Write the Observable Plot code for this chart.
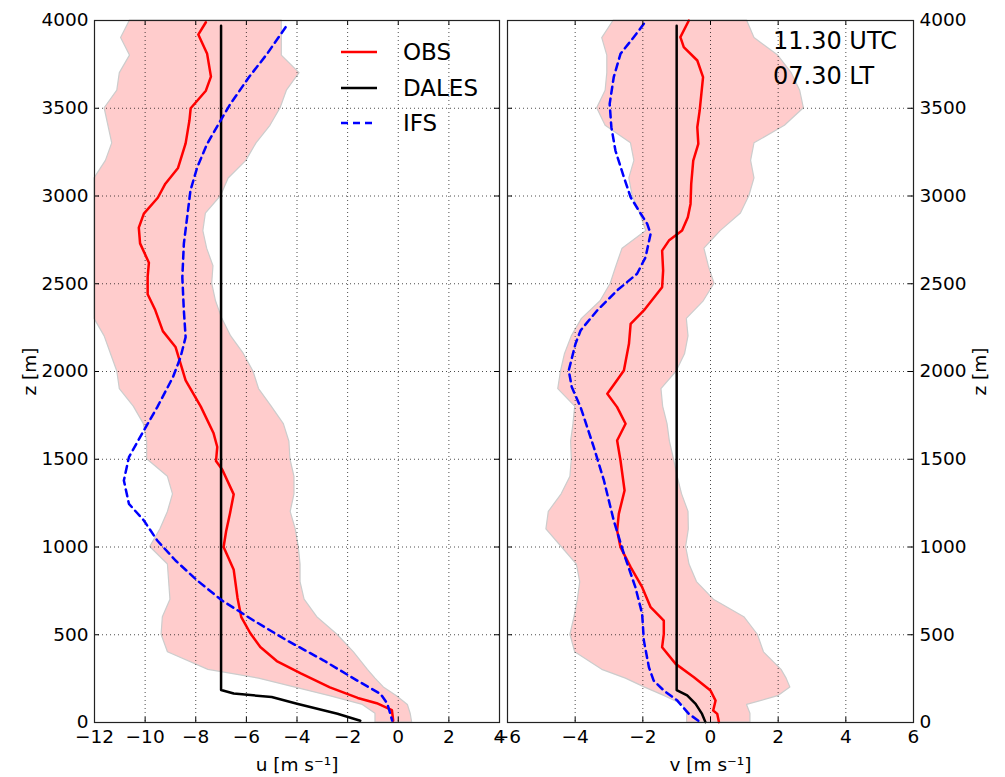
<!DOCTYPE html>
<html><head><meta charset="utf-8">
<script src="https://cdn.jsdelivr.net/npm/d3@7"></script>
<script src="https://cdn.jsdelivr.net/npm/@observablehq/plot@0.6"></script>
<style>
body{margin:0;background:#fff;}
#wrap{position:relative;width:1005px;height:777px;font-family:"DejaVu Sans",sans-serif;overflow:hidden;}
#wrap svg{position:absolute;left:0;top:0;}
.ov{position:absolute;font-family:"DejaVu Sans",sans-serif;color:#000;white-space:nowrap;}
</style></head><body><div id="wrap"></div>
<script>
// ---------- data ----------
const zTicks = [0, 500, 1000, 1500, 2000, 2500, 3000, 3500, 4000];
const uTicks = [-12, -10, -8, -6, -4, -2, 0, 2, 4];
const vTicks = [-6, -4, -2, 0, 2, 4, 6];

const bandZ = [4000,3900,3800,3700,3600,3500,3400,3300,3200,3100,3000,2900,2800,2700,2600,2500,2400,2300,2200,2100,2000,1900,1800,1700,1600,1500,1400,1300,1200,1100,1000,900,800,700,600,500,400,300,250,200,150,100,50,0];
const uBandLo = [-10.6,-10.95,-10.6,-11.0,-11.1,-11.6,-11.45,-11.3,-11.55,-12,-12,-12,-12,-12,-12,-12,-12,-12,-11.6,-11.35,-11.1,-11.0,-10.45,-10.05,-9.92,-9.92,-9.1,-8.9,-9.1,-9.4,-9.8,-9.1,-9.05,-9.0,-9.3,-9.35,-9.1,-7.5,-5.5,-4.1,-2.7,-1.4,-0.9,-0.9];
const uBandHi = [-4.6,-4.6,-4.6,-3.9,-4.4,-4.65,-5.05,-5.6,-6.0,-6.7,-7.0,-7.6,-7.7,-7.55,-7.3,-7.35,-7.2,-6.95,-6.6,-6.1,-5.72,-5.5,-5.0,-4.52,-4.3,-4.26,-4.1,-4.1,-4.25,-4.05,-3.93,-3.86,-3.86,-3.7,-3.2,-2.4,-1.75,-1.2,-0.9,-0.57,-0.05,0.38,0.49,0.55];
const vBandLo = [-2.86,-3.2,-3.05,-3.05,-3.1,-3.35,-3.1,-2.35,-2.25,-2.4,-2.3,-2.08,-1.9,-2.6,-2.78,-2.95,-3.25,-3.8,-4.1,-4.3,-4.42,-4.5,-4.0,-4.05,-4.12,-4.1,-4.14,-4.4,-4.78,-4.85,-4.4,-3.95,-3.85,-3.92,-4.02,-4.14,-4.0,-3.2,-2.5,-1.95,-1.35,-0.8,-0.69,-0.69];
const vBandHi = [1.08,1.3,2.0,2.4,2.65,2.76,2.2,1.3,1.2,1.3,1.15,0.9,0.3,-0.18,-0.05,0.12,-0.2,-0.7,-0.65,-0.75,-1.0,-1.45,-1.4,-1.27,-1.2,-1.08,-0.97,-0.84,-0.65,-0.64,-0.72,-0.62,-0.4,0.1,1.0,1.4,1.58,2.1,2.25,2.36,2.0,1.08,1.18,1.18];

const obsUZ = [3990,3920,3810,3680,3600,3500,3430,3300,3160,3070,2990,2900,2820,2730,2620,2540,2440,2350,2230,2140,1950,1800,1650,1570,1490,1440,1300,1190,1090,1000,870,710,600,510,430,350,280,200,140,110,70,10];
const obsU  = [-7.6,-7.9,-7.55,-7.4,-7.6,-8.2,-8.25,-8.4,-8.7,-9.2,-9.5,-10.05,-10.25,-10.2,-9.85,-9.9,-9.9,-9.6,-9.3,-8.8,-8.4,-7.8,-7.3,-7.15,-7.2,-6.95,-6.5,-6.65,-6.8,-6.9,-6.5,-6.35,-6.2,-5.85,-5.45,-4.8,-3.85,-2.7,-1.6,-0.85,-0.25,-0.2];
const dalesUZ = [3970,185,165,145,107,50,10];
const dalesU  = [-7,-7,-6.5,-5.0,-4.0,-2.4,-1.5];
const ifsUZ = [3962,3810,3677,3525,3430,3297,3164,3031,2879,2728,2537,2348,2196,2082,1968,1797,1664,1512,1379,1246,1151,1037,923,809,695,581,467,353,239,163,107,11];
const ifsU  = [-4.45,-5.18,-5.9,-6.63,-7.02,-7.55,-7.94,-8.21,-8.34,-8.47,-8.53,-8.47,-8.4,-8.6,-8.9,-9.52,-10.05,-10.64,-10.84,-10.64,-10.05,-9.52,-8.8,-7.94,-6.96,-5.71,-4.39,-2.94,-1.62,-0.7,-0.43,-0.24];

const obsVZ = [4000,3905,3848,3772,3677,3487,3392,3297,3202,3069,2955,2879,2803,2746,2689,2575,2480,2348,2272,2158,2006,1940,1873,1797,1702,1607,1493,1322,1189,1094,999,885,771,657,581,505,429,334,258,182,125,68,49,2];
const obsV  = [-0.64,-0.89,-0.79,-0.39,-0.22,-0.32,-0.39,-0.36,-0.51,-0.57,-0.59,-0.67,-0.84,-1.23,-1.43,-1.4,-1.43,-1.97,-2.36,-2.41,-2.56,-2.8,-3.05,-2.76,-2.51,-2.76,-2.66,-2.54,-2.71,-2.76,-2.66,-2.36,-2.02,-1.77,-1.38,-1.38,-1.43,-1.03,-0.49,0.0,0.15,0.08,0.2,0.25];
const dalesVZ = [3970,185,154,106,49,2];
const dalesV  = [-1.0,-1.0,-0.69,-0.44,-0.25,-0.15];
const ifsVZ = [3981,3905,3810,3677,3525,3392,3259,3107,2993,2917,2841,2785,2651,2557,2462,2348,2234,2158,2006,1911,1797,1569,1379,1151,961,771,619,467,315,239,182,125,49,2];
const ifsV  = [-1.97,-2.27,-2.66,-2.86,-2.98,-2.93,-2.81,-2.56,-2.36,-2.12,-1.87,-1.77,-1.92,-2.17,-2.76,-3.35,-3.84,-3.99,-4.19,-4.1,-3.84,-3.45,-3.15,-2.86,-2.56,-2.22,-2.02,-1.97,-1.82,-1.68,-1.38,-0.98,-0.64,-0.3];

const seriesNames = ["OBS", "DALES", "IFS"];
const seriesColors = ["#ff0000", "#000000", "#0000ff"];
const timeLabels = ["11.30 UTC", "07.30 LT"];

// ---------- helpers ----------
const rows = (zs, xs) => zs.map((z, i) => ({z, x: xs[i]}));
const bandRows = (lo, hi) => bandZ.map((z, i) => ({z, lo: lo[i], hi: hi[i]}));
const fmt = d => d < 0 ? "\u2212" + (-d) : String(d);

const W = 1005, H = 777, MT = 20, MB = 55, PH = H - MT - MB;

function panel({xDomain, xTicks, ml, mr, yAnchor, xLabel, band, obs, dales, ifs, yLabelOffset}) {
  const PW = W - ml - mr;
  const inner = xTicks.slice(1, -1);
  const innerZ = zTicks.slice(1, -1);
  return Plot.plot({
    width: W, height: H, marginTop: MT, marginBottom: MB, marginLeft: ml, marginRight: mr,
    style: {background: "transparent", overflow: "visible", fontFamily: "DejaVu Sans, sans-serif", fontSize: "18.5px", color: "#000"},
    x: {domain: xDomain},
    y: {domain: [0, 4000]},
    marks: [
      Plot.areaX(band, {y: "z", x1: "lo", x2: "hi", fill: "#ffcccc", stroke: "#cccccc", strokeWidth: 1.2}),
      Plot.gridX(inner, {stroke: "#000", strokeOpacity: 0.7, strokeDasharray: "1,3", strokeWidth: 1}),
      Plot.gridY(innerZ, {stroke: "#000", strokeOpacity: 0.7, strokeDasharray: "1,3", strokeWidth: 1}),
      Plot.line(obs, {x: "x", y: "z", stroke: seriesColors[0], strokeWidth: 2.5}),
      Plot.line(dales, {x: "x", y: "z", stroke: seriesColors[1], strokeWidth: 2.5}),
      Plot.line(ifs, {x: "x", y: "z", stroke: seriesColors[2], strokeWidth: 2.5, strokeDasharray: "7,5"}),
      Plot.tickX(xTicks, {x: d => d, insetTop: PH - 5, stroke: "#000"}),
      Plot.tickX(xTicks, {x: d => d, insetBottom: PH - 5, stroke: "#000"}),
      Plot.tickY(zTicks, {y: d => d, insetRight: PW - 5, stroke: "#000"}),
      Plot.tickY(zTicks, {y: d => d, insetLeft: PW - 5, stroke: "#000"}),
      Plot.frame({stroke: "#222", strokeWidth: 1.2}),
      Plot.axisX(xTicks, {anchor: "bottom", tickSize: 0, tickPadding: 7, tickFormat: fmt, label: xLabel, labelAnchor: "center", labelArrow: "none", labelOffset: 48}),
      Plot.axisY(zTicks, {anchor: yAnchor, tickSize: 0, tickPadding: 6, tickFormat: d => String(d), label: "z [m]", labelAnchor: "center", labelArrow: "none", labelOffset: yLabelOffset})
    ]
  });
}

const wrap = document.getElementById("wrap");
wrap.appendChild(panel({
  xDomain: [-12, 4], xTicks: uTicks, ml: 94, mr: 506, yAnchor: "left", xLabel: "u [m s\u207B\u00B9]",
  band: bandRows(uBandLo, uBandHi), obs: rows(obsUZ, obsU), dales: rows(dalesUZ, dalesU), ifs: rows(ifsUZ, ifsU), yLabelOffset: 72
}));
wrap.appendChild(panel({
  xDomain: [-6, 6], xTicks: vTicks, ml: 507, mr: 92, yAnchor: "right", xLabel: "v [m s\u207B\u00B9]",
  band: bandRows(vBandLo, vBandHi), obs: rows(obsVZ, obsV), dales: rows(dalesVZ, dalesV), ifs: rows(ifsVZ, ifsV), yLabelOffset: 72
}));

// ---------- legend (left panel, upper right) ----------
const legendTop = [52, 88, 123];
seriesNames.forEach((name, i) => {
  const s = document.createElementNS("http://www.w3.org/2000/svg", "svg");
  s.setAttribute("width", 40); s.setAttribute("height", 10);
  s.style.left = "339px"; s.style.top = (legendTop[i] - 5) + "px";
  const l = document.createElementNS("http://www.w3.org/2000/svg", "line");
  l.setAttribute("x1", 2); l.setAttribute("x2", 38); l.setAttribute("y1", 5); l.setAttribute("y2", 5);
  l.setAttribute("stroke", seriesColors[i]); l.setAttribute("stroke-width", 2.5);
  if (name === "IFS") l.setAttribute("stroke-dasharray", "7,5");
  s.appendChild(l);
  wrap.appendChild(s);
  const t = document.createElement("div");
  t.className = "ov"; t.textContent = name;
  t.style.left = "403px"; t.style.top = (legendTop[i] - 14) + "px";
  t.style.fontSize = "23px"; t.style.lineHeight = "28px";
  wrap.appendChild(t);
});

// ---------- time annotation (right panel, upper right) ----------
const timeTop = [41, 76];
timeLabels.forEach((txt, i) => {
  const t = document.createElement("div");
  t.className = "ov"; t.textContent = txt;
  t.style.left = "773px"; t.style.top = (timeTop[i] - 15) + "px";
  t.style.fontSize = "24px"; t.style.lineHeight = "30px";
  wrap.appendChild(t);
});
</script>
</body></html>
